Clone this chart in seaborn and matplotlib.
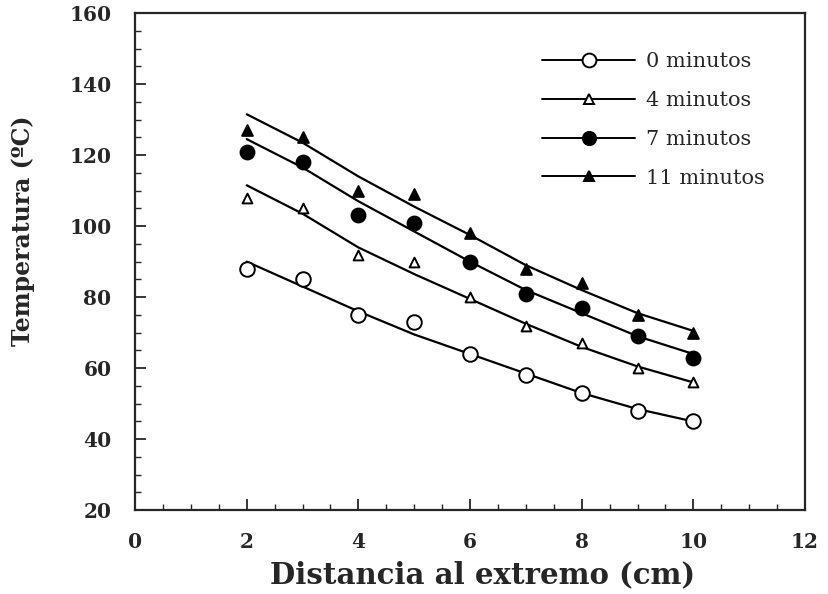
import matplotlib
matplotlib.use('Agg')
import matplotlib.pyplot as plt
from matplotlib.lines import Line2D
from matplotlib.ticker import MultipleLocator
import pandas as pd
import seaborn as sns

# ==================== datos ====================
distancia = [2, 3, 4, 5, 6, 7, 8, 9, 10]

t0_datos = [88, 85, 75, 73, 64, 58, 53, 48, 45]
t4_datos = [108, 105, 92, 90, 80, 72, 67, 60, 56]
t7_datos = [121, 118, 103, 101, 90, 81, 77, 69, 63]
t11_datos = [127, 125, 110, 109, 98, 88, 84, 75, 70]

# curvas ajustadas
t0_ajuste = [90, 83, 76, 69.5, 64, 58.5, 53, 48.5, 45]
t4_ajuste = [111.5, 103.5, 94, 86.5, 79.5, 72.5, 66, 60.5, 56]
t7_ajuste = [124.5, 116.5, 107, 98.5, 90, 82, 75.5, 69, 64]
t11_ajuste = [131.5, 123.5, 114, 105.5, 97.5, 89, 82, 75.5, 70.5]

series = ['0 minutos', '4 minutos', '7 minutos', '11 minutos']

# ==================== estilo ====================
sns.set_style('ticks')
plt.rcParams['font.family'] = ['DejaVu Serif', 'Liberation Serif']

fig, ax = plt.subplots(figsize=(8.29, 5.94), dpi=100)
fig.subplots_adjust(left=0.163, right=0.971, bottom=0.141, top=0.978)

estilos = {
    '0 minutos': dict(marker='o', fc='white', s=110),
    '4 minutos': dict(marker='^', fc='white', s=50),
    '7 minutos': dict(marker='o', fc='black', s=100),
    '11 minutos': dict(marker='^', fc='black', s=60),
}

datos = [t0_datos, t4_datos, t7_datos, t11_datos]
ajustes = [t0_ajuste, t4_ajuste, t7_ajuste, t11_ajuste]

handles = []
for nombre, yd, ya in zip(series, datos, ajustes):
    df = pd.DataFrame({'x': distancia, 'dato': yd, 'ajuste': ya})
    est = estilos[nombre]
    sns.lineplot(data=df, x='x', y='ajuste', color='black', linewidth=1.6, ax=ax)
    sns.scatterplot(data=df, x='x', y='dato', marker=est['marker'], s=est['s'],
                    facecolor=est['fc'], edgecolor='black', linewidth=1.4,
                    zorder=3, ax=ax)
    handles.append(Line2D([0], [0], color='black', linewidth=1.4,
                          marker=est['marker'],
                          markersize=(est['s'] ** 0.5) * 0.95,
                          markerfacecolor=est['fc'], markeredgecolor='black',
                          markeredgewidth=1.4, label=nombre))

# ==================== ejes ====================
ax.set_xlim(0, 12)
ax.set_ylim(20, 160)
ax.xaxis.set_major_locator(MultipleLocator(2))
ax.xaxis.set_minor_locator(MultipleLocator(0.5))
ax.yaxis.set_major_locator(MultipleLocator(20))
ax.yaxis.set_minor_locator(MultipleLocator(5))
ax.tick_params(which='major', direction='in', length=8, width=1.3, labelsize=14.5)
ax.tick_params(axis='x', which='major', pad=16)
ax.tick_params(axis='y', which='major', pad=17)
ax.tick_params(which='minor', direction='in', length=4, width=1.0)
for lab in ax.get_xticklabels() + ax.get_yticklabels():
    lab.set_fontweight('bold')
for sp in ax.spines.values():
    sp.set_linewidth(1.6)
    sp.set_visible(True)

ax.set_xlabel('Distancia al extremo (cm)', fontsize=21, fontweight='bold')
ax.set_ylabel('Temperatura (ºC)', fontsize=17, fontweight='bold')
ax.xaxis.set_label_coords(0.518, -0.100)
ax.yaxis.set_label_coords(-0.149, 0.563)

ax.legend(handles=handles, loc='upper left', bbox_to_anchor=(0.607, 0.921),
          frameon=False, handlelength=4.5, fontsize=15, labelspacing=0.95,
          handletextpad=0.5, borderpad=0, borderaxespad=0)

plt.savefig('out.png', dpi=100)
